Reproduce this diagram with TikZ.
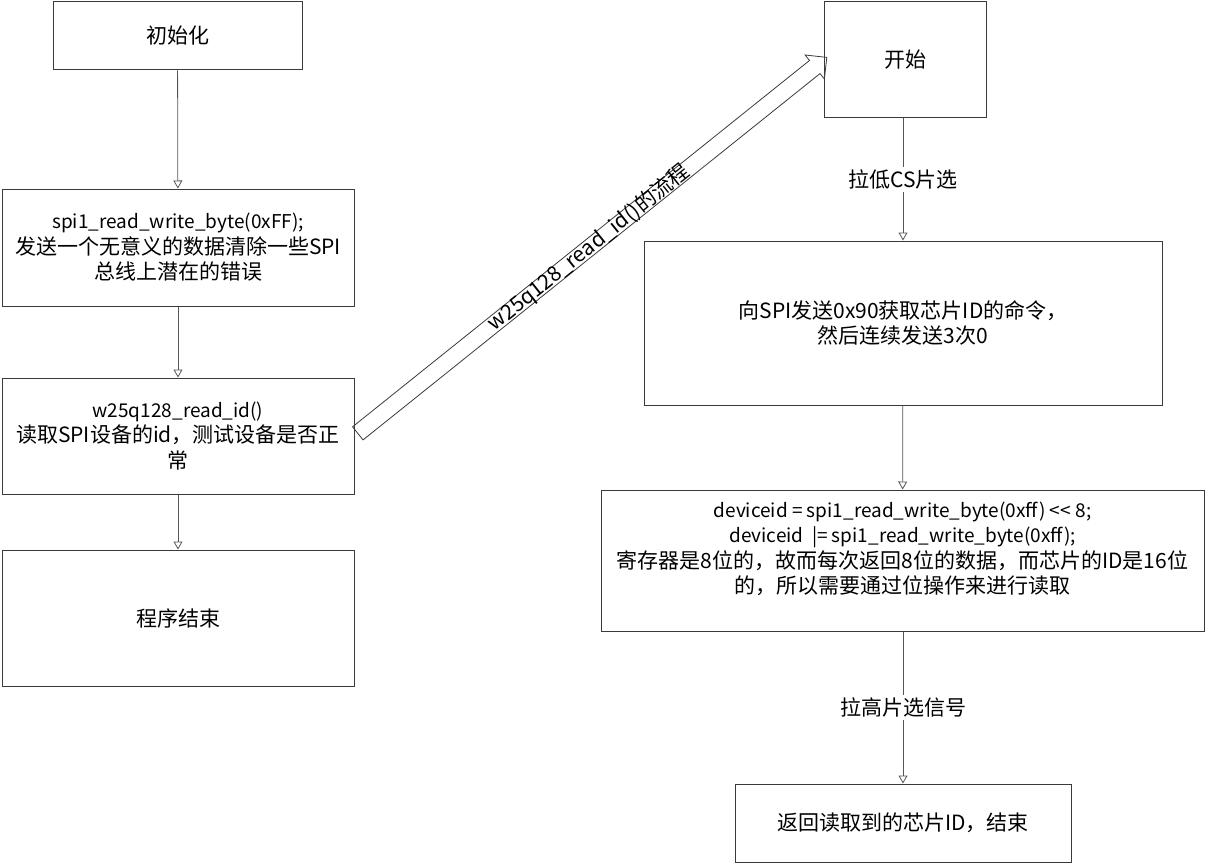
\documentclass[tikz,border=0pt]{standalone}
\usepackage{fontspec}
\setmainfont{Noto Sans CJK SC}
\usetikzlibrary{arrows.meta,positioning,calc,shapes.arrows}
\definecolor{boxline}{HTML}{3A3A3A}
\definecolor{arrline}{HTML}{555555}
\newcommand\codeline[1]{{\fontsize{19}{25.5}\selectfont #1}}

\begin{document}
\begin{tikzpicture}[x=1pt,y=-1pt,
  box/.style={
    draw=boxline,
    line width=1pt,
    align=center,
    inner sep=0pt,
    font=\fontsize{21}{25.5}\selectfont
  },
  arr/.style={-{Triangle[open,length=8pt,width=9pt]}, line width=0.8pt, draw=arrline},
  lbl/.style={fill=white, inner sep=3pt, font=\fontsize{21}{25.5}\selectfont},
  flow/.style={
    single arrow,
    draw=boxline,
    line width=0.8pt,
    inner sep=0pt,
    text height=16pt,
    text depth=0pt,
    minimum width=30pt,
    single arrow head extend=7pt
  }
]
\useasboundingbox (0,0) rectangle (1206,864);

% left column
\node[box, minimum width=249, minimum height=68] (init) at (177.5,36) {初始化};

\node[box, minimum width=352, minimum height=117] (clr) at (178,247.5) {
  \codeline{spi1\_read\_write\_byte(0xFF);}\\
  发送一个无意义的数据清除一些SPI\\
  总线上潜在的错误
};

\node[box, minimum width=352, minimum height=116] (rid) at (178,436) {
  \codeline{w25q128\_read\_id()}\\
  读取SPI设备的id，测试设备是否正\\
  常
};

\node[box, minimum width=352, minimum height=136] (fin) at (178,618) {程序结束};

% right column
\node[box, minimum width=162, minimum height=116] (start) at (905,60) {开始};

\node[box, minimum width=518, minimum height=164] (cmd) at (903,323) {
  向SPI发送0x90获取芯片ID的命令，\\
  然后连续发送3次0
};

\node[box, minimum width=603, minimum height=141] (dev) at (902.5,560.5) {
  \codeline{deviceid = spi1\_read\_write\_byte(0xff) <\kern0.5pt< 8;}\\
  \codeline{deviceid \ |= spi1\_read\_write\_byte(0xff);}\\
  寄存器是8位的，故而每次返回8位的数据，而芯片的ID是16位\\
  的，所以需要通过位操作来进行读取\\
  \mbox{}
};

\node[box, minimum width=336, minimum height=78] (ret) at (903,823) {返回读取到的芯片ID，结束};

\draw[arr] (init) -- (clr);
\draw[arr] (clr) -- (rid);
\draw[arr] (rid) -- (fin);

\draw[arr] (start.south -| cmd.north) -- node[lbl] {拉低CS片选} (cmd.north);
\draw[arr] (cmd) -- (dev);
\draw[arr] (dev.south -| ret.north) -- node[lbl] {拉高片选信号} (ret.north);

% hollow arrow between the two flows
\path let \p1=($(start.west)-(rid.east)$), \n1={atan2(\y1,\x1)}, \n2={veclen(\x1,\y1)} in
  node[flow, rotate=\n1, minimum height=\n2] (jump) at ($(rid.east)!0.5!(start.west)$) {};
\path (rid.east) -- (start.west)
  node[midway, sloped, font=\fontsize{21}{25.5}\selectfont] {w25q128\_read\_id()的流程};

\end{tikzpicture}
\end{document}
